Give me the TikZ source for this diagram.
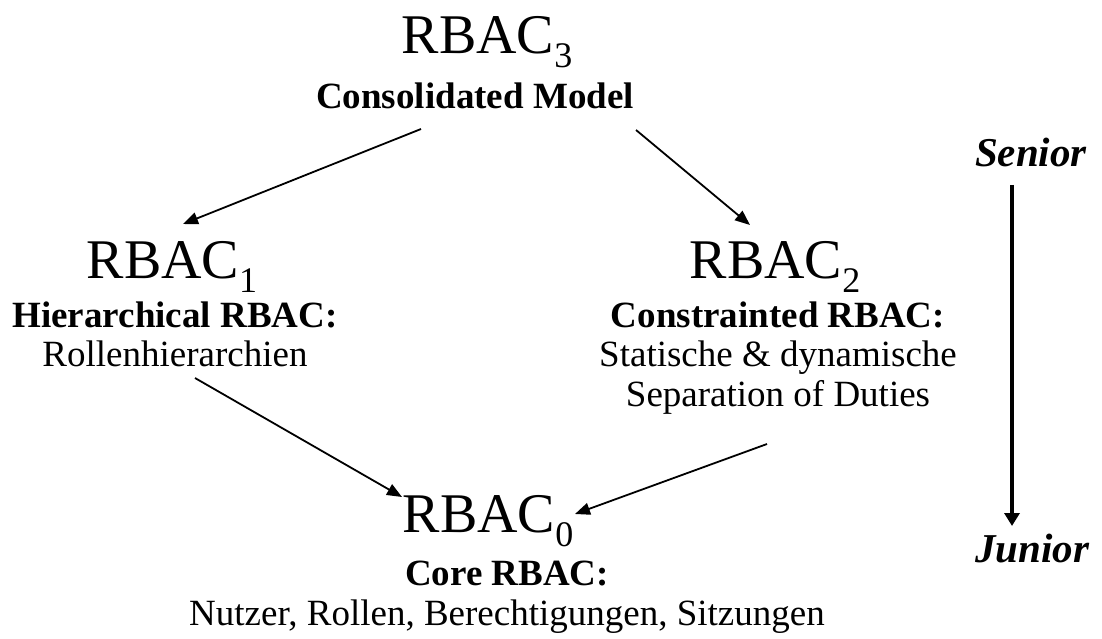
\documentclass[tikz,border=0pt]{standalone}
\usepackage{fontspec}
\setmainfont{Liberation Serif}
\usetikzlibrary{arrows.meta}
\newcommand{\rbacsub}[1]{\raisebox{-0.25em}{\fontsize{36}{36}\selectfont #1}}
\begin{document}
\begin{tikzpicture}[x=1pt,y=-1pt,
  big/.style={font=\fontsize{56}{56}\selectfont, inner sep=0pt, anchor=base},
  head/.style={font=\fontsize{37}{37}\selectfont\bfseries, inner sep=0pt, anchor=base},
  plain/.style={font=\fontsize{37}{37}\selectfont, inner sep=0pt, anchor=base},
  side/.style={font=\fontsize{41}{41}\selectfont\bfseries\itshape, inner sep=0pt, anchor=base},
  link/.style={line width=1.8pt, -{Triangle[length=15pt,width=12pt]}}]
\useasboundingbox (0,0) rectangle (1102,639);
% top level
\node[big]  (r3)  at (487,54)  {RBAC\rbacsub{3}};
\node[head] (r3t) at (475,109) {Consolidated Model};
% middle level
\node[big]  (r1)  at (172,278) {RBAC\rbacsub{1}};
\node[head] (r1t) at (175,327) {Hierarchical RBAC:};
\node[plain](r1d) at (175,366) {Rollenhierarchien};
\node[big]  (r2)  at (775,278) {RBAC\rbacsub{2}};
\node[head] (r2t) at (778,327) {Constrainted RBAC:};
\node[plain](r2a) at (778,366) {Statische \& dynamische};
\node[plain](r2b) at (778,406) {Separation of Duties};
% bottom level
\node[big]  (r0)  at (488,532) {RBAC\rbacsub{0}};
\node[head] (r0t) at (507,585) {Core RBAC:};
\node[plain](r0d) at (507,625) {Nutzer, Rollen, Berechtigungen, Sitzungen};
% seniority scale
\node[side] (sen) at (1031,167) {Senior};
\node[side] (jun) at (1032,562) {Junior};
\coordinate (s1) at (1012,185);
\coordinate (s2) at (1012,526);
\coordinate (a1) at (421,129);  \coordinate (a2) at (183,224);
\coordinate (b1) at (636,130);  \coordinate (b2) at (750,225);
\coordinate (c1) at (195,378);  \coordinate (c2) at (402,497);
\coordinate (d1) at (767,444);  \coordinate (d2) at (575,514);
\draw[link] (a1) -- (a2);
\draw[link] (b1) -- (b2);
\draw[link] (c1) -- (c2);
\draw[link] (d1) -- (d2);
\draw[line width=3.5pt, -{Triangle[length=13pt,width=15pt]}] (s1) -- (s2);
\end{tikzpicture}
\end{document}
